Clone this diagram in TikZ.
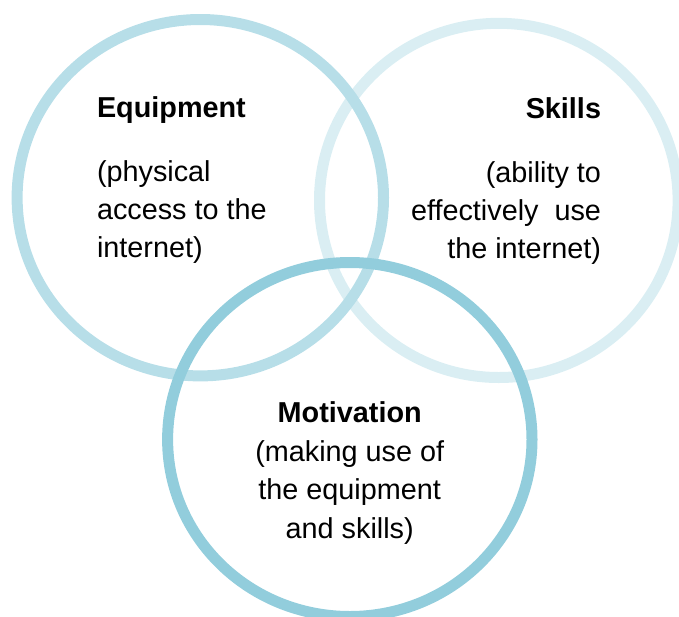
\documentclass[tikz,border=0pt]{standalone}
\usepackage{fontspec}
\setmainfont{Liberation Sans}
\usetikzlibrary{shapes.geometric}
\definecolor{ringA}{HTML}{B7DEE8}
\definecolor{ringB}{HTML}{DAEEF3}
\definecolor{ringC}{HTML}{92CDDC}
\tikzset{
  ring/.style={ellipse, draw=#1, line width=11pt, inner sep=0pt, outer sep=0pt},
  txt/.style={inner sep=0pt, outer sep=0pt, font=\fontsize{28.8}{38}\selectfont, text=black}
}
\begin{document}
\begin{tikzpicture}[x=1pt,y=-1pt]
\useasboundingbox (0,0) rectangle (679,616);
\node[ring=ringB, minimum width=358.6pt, minimum height=354.2pt] (skillsring) at (498.8,200.4) {};
\node[ring=ringA, minimum width=366.4pt, minimum height=356.4pt] (equipring) at (200.3,197.7) {};
\node[ring=ringC, minimum width=364.4pt, minimum height=354pt] (motivring) at (349.8,439.5) {};
% base anchor = baseline of the last line
\node[txt, anchor=base west, align=left] (equiptext) at (97,257.5)
  {\textbf{Equipment}\\[26.5pt](physical\\access to the\\internet)};
\node[txt, anchor=base east, align=right] (skillstext) at (601,258.5)
  {\textbf{Skills}\\[26.5pt](ability to\\effectively\ \ use\\the internet)};
\node[txt, anchor=base, align=center, font=\fontsize{28.8}{38.5}\selectfont] (motivtext) at (349.7,538.2)
  {\textbf{Motivation}\\(making use of\\the equipment\\and skills)};
\end{tikzpicture}
\end{document}
